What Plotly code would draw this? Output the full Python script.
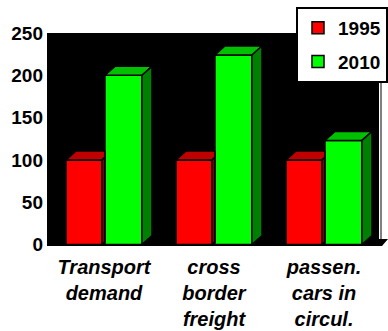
import plotly.graph_objects as go

# ---- data ----
categories = ["Transport<br>demand", "cross<br>border<br>freight", "passen.<br>cars in<br>circul."]
series_names = ["1995", "2010"]
values_1995 = [100, 100, 100]
values_2010 = [200, 224, 123]
y_ticks = [0, 50, 100, 150, 200, 250]

# ---- style ----
FONT = "Arial, Liberation Sans, sans-serif"
front_colors = ["#FF0000", "#00FF00"]
top_colors = ["#C00000", "#00C000"]
side_colors = ["#800000", "#008000"]
offsets = [-0.345, 0.009]
widths = [0.327, 0.336]
DX = 0.091   # depth in x units
DY = 10.6    # depth in y units

xpos = list(range(len(categories)))
series_vals = [values_1995, values_2010]


def clip_x(poly, c):
    """Clip polygon to x <= c (Sutherland-Hodgman, single edge)."""
    out = []
    n = len(poly)
    for k in range(n):
        p = poly[k]
        q = poly[(k + 1) % n]
        pin = p[0] <= c
        qin = q[0] <= c
        if pin:
            out.append(p)
        if pin != qin:
            t = (c - p[0]) / (q[0] - p[0])
            out.append((c, p[1] + t * (q[1] - p[1])))
    return out


fig = go.Figure()

# 3D faces (top + side) computed from the data
for s, vals in enumerate(series_vals):
    for i, h in enumerate(vals):
        x0 = xpos[i] + offsets[s]
        x1 = x0 + widths[s]
        top = [(x0, h), (x1, h), (x1 + DX, h + DY), (x0 + DX, h + DY)]
        side = [(x1, 0), (x1 + DX, DY), (x1 + DX, h + DY), (x1, h)]
        faces = [(top, top_colors[s]), (side, side_colors[s])]
        # hide the part of the first series covered by the next bar
        if s + 1 < len(series_vals) and series_vals[s + 1][i] >= h:
            clip = xpos[i] + offsets[s + 1]
            faces = [(clip_x(p, clip), c) for p, c in faces]
        for poly, col in faces:
            if len(poly) < 3:
                continue
            xs = [p[0] for p in poly] + [poly[0][0]]
            ys = [p[1] for p in poly] + [poly[0][1]]
            fig.add_trace(go.Scatter(
                x=xs, y=ys, mode="lines", fill="toself", fillcolor=col,
                line=dict(color="black", width=1.5),
                showlegend=False, hoverinfo="skip"))

# front faces
for s, vals in enumerate(series_vals):
    fig.add_trace(go.Bar(
        x=xpos, y=vals, name=series_names[s], legendgroup=series_names[s],
        offset=offsets[s], width=widths[s],
        marker=dict(color=front_colors[s], line=dict(color="black", width=1.5)),
    ))

# plot geometry (pixels)
L, R, T, B = 47, 9, 33, 85
W, H = 388 - L - R, 331 - T - B


def px(x):
    return (x - L) / W


def py(y):
    return (331 - B - y) / H


shapes = [
    # floor edge to the right of the back wall
    dict(type="path", xref="paper", yref="paper",
         path=f"M {px(375)} {py(239)} L {px(388)} {py(239)} L {px(382)} {py(246)} L {px(375)} {py(246)} Z",
         fillcolor="black", line=dict(width=0)),
    # right wall edge
    dict(type="line", xref="paper", yref="paper",
         x0=px(381), x1=px(381), y0=py(80), y1=py(240),
         line=dict(color="black", width=1)),
]

fig.update_layout(
    width=388, height=331,
    margin=dict(l=L, r=R, t=T, b=B, pad=0, autoexpand=False),
    paper_bgcolor="white", plot_bgcolor="black",
    font=dict(family=FONT, color="black"),
    barmode="overlay",
    showlegend=True,
    legend=dict(
        xref="container", yref="container",
        x=1, y=1 - 7 / 331, xanchor="right", yanchor="top",
        bgcolor="white", bordercolor="black", borderwidth=2,
        font=dict(size=19, family=FONT, weight="bold"),
        traceorder="grouped", tracegroupgap=6, itemwidth=30,
    ),
    shapes=shapes,
    xaxis=dict(
        range=[-0.518, 2.5], tickvals=xpos, ticktext=categories,
        showgrid=False, zeroline=False, showline=False, ticks="",
        tickfont=dict(size=20, family=FONT, weight="bold", style="italic"),
        ticklabelstandoff=7, fixedrange=True,
    ),
    yaxis=dict(
        range=[-1.8, 250], tickvals=y_ticks,
        showgrid=False, zeroline=False, showline=False, ticks="",
        tickfont=dict(size=19, family=FONT, weight="bold"),
        ticklabelstandoff=3, fixedrange=True,
    ),
)

fig.write_html("out.html")
